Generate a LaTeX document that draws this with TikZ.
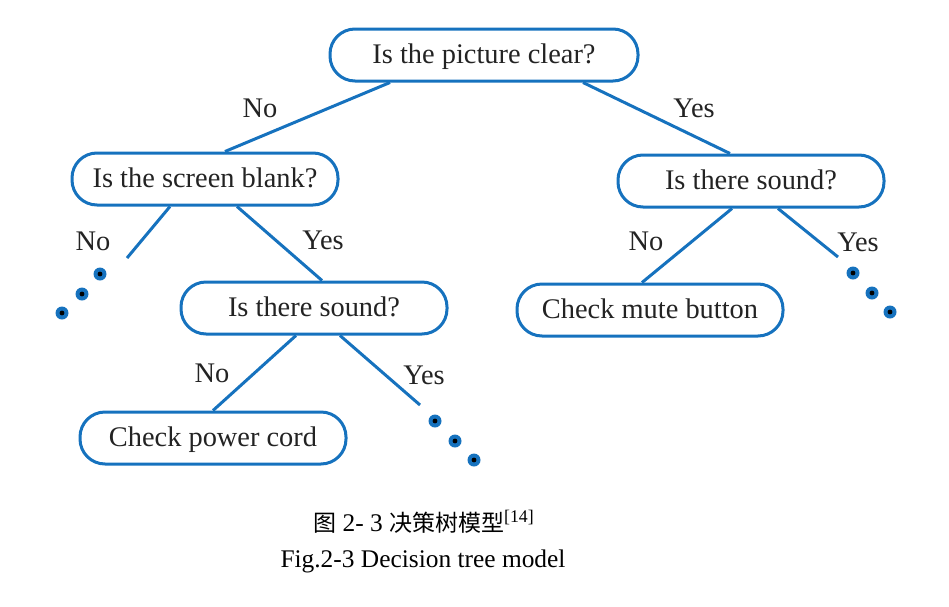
\documentclass[tikz,border=0pt]{standalone}
\usepackage{fontspec}
\setmainfont{Liberation Serif}
\newfontfamily\cjk{Noto Sans CJK SC}
\definecolor{treeblue}{RGB}{22,114,190}
\definecolor{inkgray}{RGB}{35,35,35}
\tikzset{
  question/.style={draw=treeblue, line width=1.5pt, rounded corners=12.5pt,
    minimum width=133pt, minimum height=26pt, inner sep=0pt,
    text height=8pt, text depth=0pt,
    font=\fontsize{14.2}{16}\selectfont, text=inkgray},
  branch/.style={treeblue, line width=1.5pt},
  answer/.style={font=\fontsize{14.2}{16}\selectfont, text=inkgray},
  dotmark/.style={circle, fill=treeblue, minimum size=6.5pt, inner sep=0pt,
    path picture={\fill[black] (path picture bounding box.center) circle (1.2pt);}}
}
\begin{document}
\begin{tikzpicture}[x=0.5pt, y=-0.5pt]
				\useasboundingbox (0,0) rectangle (949,606);
				% boxes
				\node[question, minimum width=154pt] (clear) at (484,55) {Is the picture clear?};
				\node[question] (blank) at (205,179) {Is the screen blank?};
				\node[question] (soundR) at (751,181) {Is there sound?};
				\node[question] (soundL) at (314,308) {Is there sound?};
				\node[question] (mute) at (650,310) {Check mute button};
				\node[question] (power) at (213,438) {Check power cord};
				% free ends
				\coordinate (endA) at (127,258);
				\coordinate (endB) at (420,405);
				\coordinate (endC) at (838,257);
				% branches
				\draw[branch] ([xshift=-47pt]clear.south) -- ([xshift=10pt]blank.north);
				\draw[branch] ([xshift=49.5pt]clear.south) -- ([xshift=-10.5pt]soundR.north);
				\draw[branch] ([xshift=-17.5pt]blank.south) -- (endA);
				\draw[branch] ([xshift=16pt]blank.south) -- ([xshift=4pt]soundL.north);
				\draw[branch] ([xshift=-9pt]soundL.south) -- (power.north);
				\draw[branch] ([xshift=13pt]soundL.south) -- (endB);
				\draw[branch] ([xshift=-9.5pt]soundR.south) -- ([xshift=-4pt]mute.north);
				\draw[branch] ([xshift=13.5pt]soundR.south) -- (endC);
				% dots
				\node[dotmark] (a1) at (100,274) {};
				\node[dotmark] (a2) at (82,294) {};
				\node[dotmark] (a3) at (62,313) {};
				\node[dotmark] (b1) at (435,421) {};
				\node[dotmark] (b2) at (455,441) {};
				\node[dotmark] (b3) at (474,460) {};
				\node[dotmark] (c1) at (853,273) {};
				\node[dotmark] (c2) at (872,293) {};
				\node[dotmark] (c3) at (890,312) {};
				% answers
				\node[answer] (no1) at (260,108) {No};
				\node[answer] (yes1) at (694,108) {Yes};
				\node[answer] (no2) at (93,241) {No};
				\node[answer] (yes2) at (323,240) {Yes};
				\node[answer] (no3) at (212,373) {No};
				\node[answer] (yes3) at (424,375) {Yes};
				\node[answer] (no4) at (646,241) {No};
				\node[answer] (yes4) at (858,242) {Yes};
				% caption
				\node[font=\fontsize{12.7}{15}\selectfont] (capcn) at (424,522)
					{{\cjk\fontsize{11.5}{15}\selectfont 图} 2- 3 {\cjk\fontsize{11.5}{15}\selectfont 决策树模型}\textsuperscript{[14]}};
				\node[font=\fontsize{12.7}{15}\selectfont] (capen) at (423,561) {Fig.2-3 Decision tree model};
			\end{tikzpicture}
\end{document}
